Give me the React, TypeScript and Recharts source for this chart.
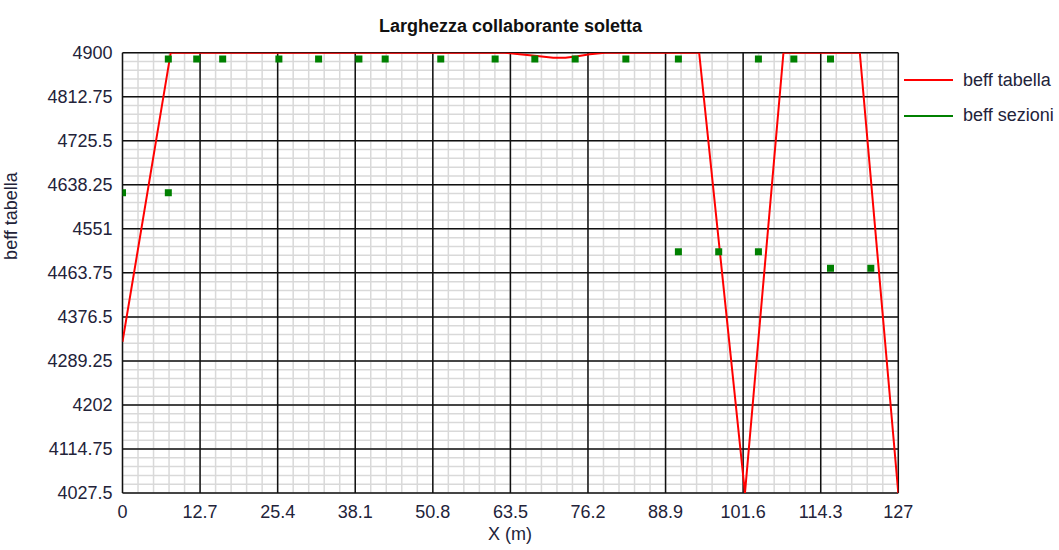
import { ComposedChart, Line, Scatter, XAxis, YAxis, CartesianGrid } from 'recharts';

// beff tabella (linea rossa)
const tabellaX = [0, 7.9, 62.6, 65, 67.5, 70.5, 72.5, 74.5, 76.5, 79, 94.4, 101.9, 108.2, 120.7, 127];
const tabellaY = [4327, 4900, 4900, 4897, 4894, 4890, 4890, 4893, 4897, 4900, 4900, 4027.5, 4900, 4900, 4027.5];

// beff sezioni (punti verdi)
const sezioniX = [
  0, 7.5, 7.5, 12.15, 16.4, 25.6, 32.1, 38.7, 43, 52.1, 61, 67.5, 74.1, 82.4, 91, 91,
  97.6, 104.1, 104.1, 109.9, 115.9, 115.9, 122.5,
];
const sezioniY = [
  4622.5, 4622.5, 4887.5, 4887.5, 4887.5, 4887.5, 4887.5, 4887.5, 4887.5, 4887.5, 4887.5, 4887.5,
  4887.5, 4887.5, 4887.5, 4505.5, 4505.5, 4887.5, 4505.5, 4887.5, 4887.5, 4472.8, 4472.8,
];

const xTicks = [0, 12.7, 25.4, 38.1, 50.8, 63.5, 76.2, 88.9, 101.6, 114.3, 127];
const yTicks = [4027.5, 4114.75, 4202, 4289.25, 4376.5, 4463.75, 4551, 4638.25, 4725.5, 4812.75, 4900];

const X_MIN = 0;
const X_MAX = 127;
const Y_MIN = 4027.5;
const Y_MAX = 4900;

const tabellaData = tabellaX.map((x, i) => ({ x, y: tabellaY[i] }));
const sezioniData = sezioniX.map((x, i) => ({ x, y: sezioniY[i] }));

// griglia secondaria: 5 suddivisioni per intervallo principale
const SUB = 50;

const FONT = '"Liberation Sans", Arial, sans-serif';
const TEXT = '#23233a';

const Square = (props: any) => {
  const { cx, cy } = props;
  return <rect x={cx - 3.5} y={cy - 3.5} width={7} height={7} fill="#008000" />;
};

const minorVertical = ({ offset }: any) => {
  const out: number[] = [];
  for (let i = 0; i <= SUB; i++) out.push(offset.left + (offset.width * i) / SUB);
  return out;
};
const minorHorizontal = ({ offset }: any) => {
  const out: number[] = [];
  for (let i = 0; i <= SUB; i++) out.push(offset.top + (offset.height * i) / SUB);
  return out;
};
const majorVertical = ({ offset }: any) =>
  xTicks.map((v) => offset.left + (offset.width * (v - X_MIN)) / (X_MAX - X_MIN));
const majorHorizontal = ({ offset }: any) =>
  yTicks.map((v) => offset.top + (offset.height * (Y_MAX - v)) / (Y_MAX - Y_MIN));

export default function App() {
  return (
    <div
      style={{
        position: 'absolute',
        left: 0,
        top: 0,
        width: 1059,
        height: 550,
        background: '#fff',
        fontFamily: FONT,
      }}
    >
      <div
        style={{
          position: 'absolute',
          left: 122.5,
          width: 776,
          top: 16,
          textAlign: 'center',
          fontSize: 18,
          fontWeight: 'bold',
          color: '#111',
        }}
      >
        Larghezza collaborante soletta
      </div>

      <ComposedChart
        width={1059}
        height={550}
        margin={{ top: 52.7, right: 160.7, bottom: 0, left: 22.5 }}
      >
        <CartesianGrid
          stroke="#d9d9d9"
          strokeWidth={1.5}
          verticalCoordinatesGenerator={minorVertical}
          horizontalCoordinatesGenerator={minorHorizontal}
        />
        <CartesianGrid
          stroke="#111"
          strokeWidth={1.5}
          verticalCoordinatesGenerator={majorVertical}
          horizontalCoordinatesGenerator={majorHorizontal}
        />
        <XAxis
          type="number"
          dataKey="x"
          domain={[X_MIN, X_MAX]}
          ticks={xTicks}
          height={57}
          axisLine={false}
          tickLine={false}
          tickMargin={6}
          tick={{ fontSize: 18, fill: TEXT, fontFamily: FONT }}
          allowDataOverflow
          label={{
            content: () => (
              <text x={510} y={540} textAnchor="middle" fontSize={18} fill={TEXT} fontFamily={FONT}>
                X (m)
              </text>
            ),
          }}
        />
        <YAxis
          type="number"
          dataKey="y"
          domain={[Y_MIN, Y_MAX]}
          ticks={yTicks}
          width={100}
          axisLine={false}
          tickLine={false}
          tickMargin={4}
          tick={{ fontSize: 18, fill: TEXT, fontFamily: FONT }}
          allowDataOverflow
          label={{
            content: () => (
              <text
                transform="translate(17, 216) rotate(-90)"
                textAnchor="middle"
                fontSize={18}
                fill={TEXT}
                fontFamily={FONT}
              >
                beff tabella
              </text>
            ),
          }}
        />
        <Line
          data={tabellaData}
          dataKey="y"
          type="linear"
          stroke="#ff0000"
          strokeWidth={2}
          dot={false}
          activeDot={false}
          isAnimationActive={false}
        />
        <Scatter data={sezioniData} shape={Square} isAnimationActive={false} />
      </ComposedChart>

      <div style={{ position: 'absolute', left: 904, top: 67, fontSize: 18, color: TEXT }}>
        {[
          { name: 'beff tabella', color: '#ff0000' },
          { name: 'beff sezioni', color: '#008000' },
        ].map((item) => (
          <div key={item.name} style={{ display: 'flex', alignItems: 'center', height: 26, marginBottom: 9.5 }}>
            <div style={{ width: 49, height: 2, background: item.color, marginRight: 10 }} />
            <span>{item.name}</span>
          </div>
        ))}
      </div>
    </div>
  );
}
